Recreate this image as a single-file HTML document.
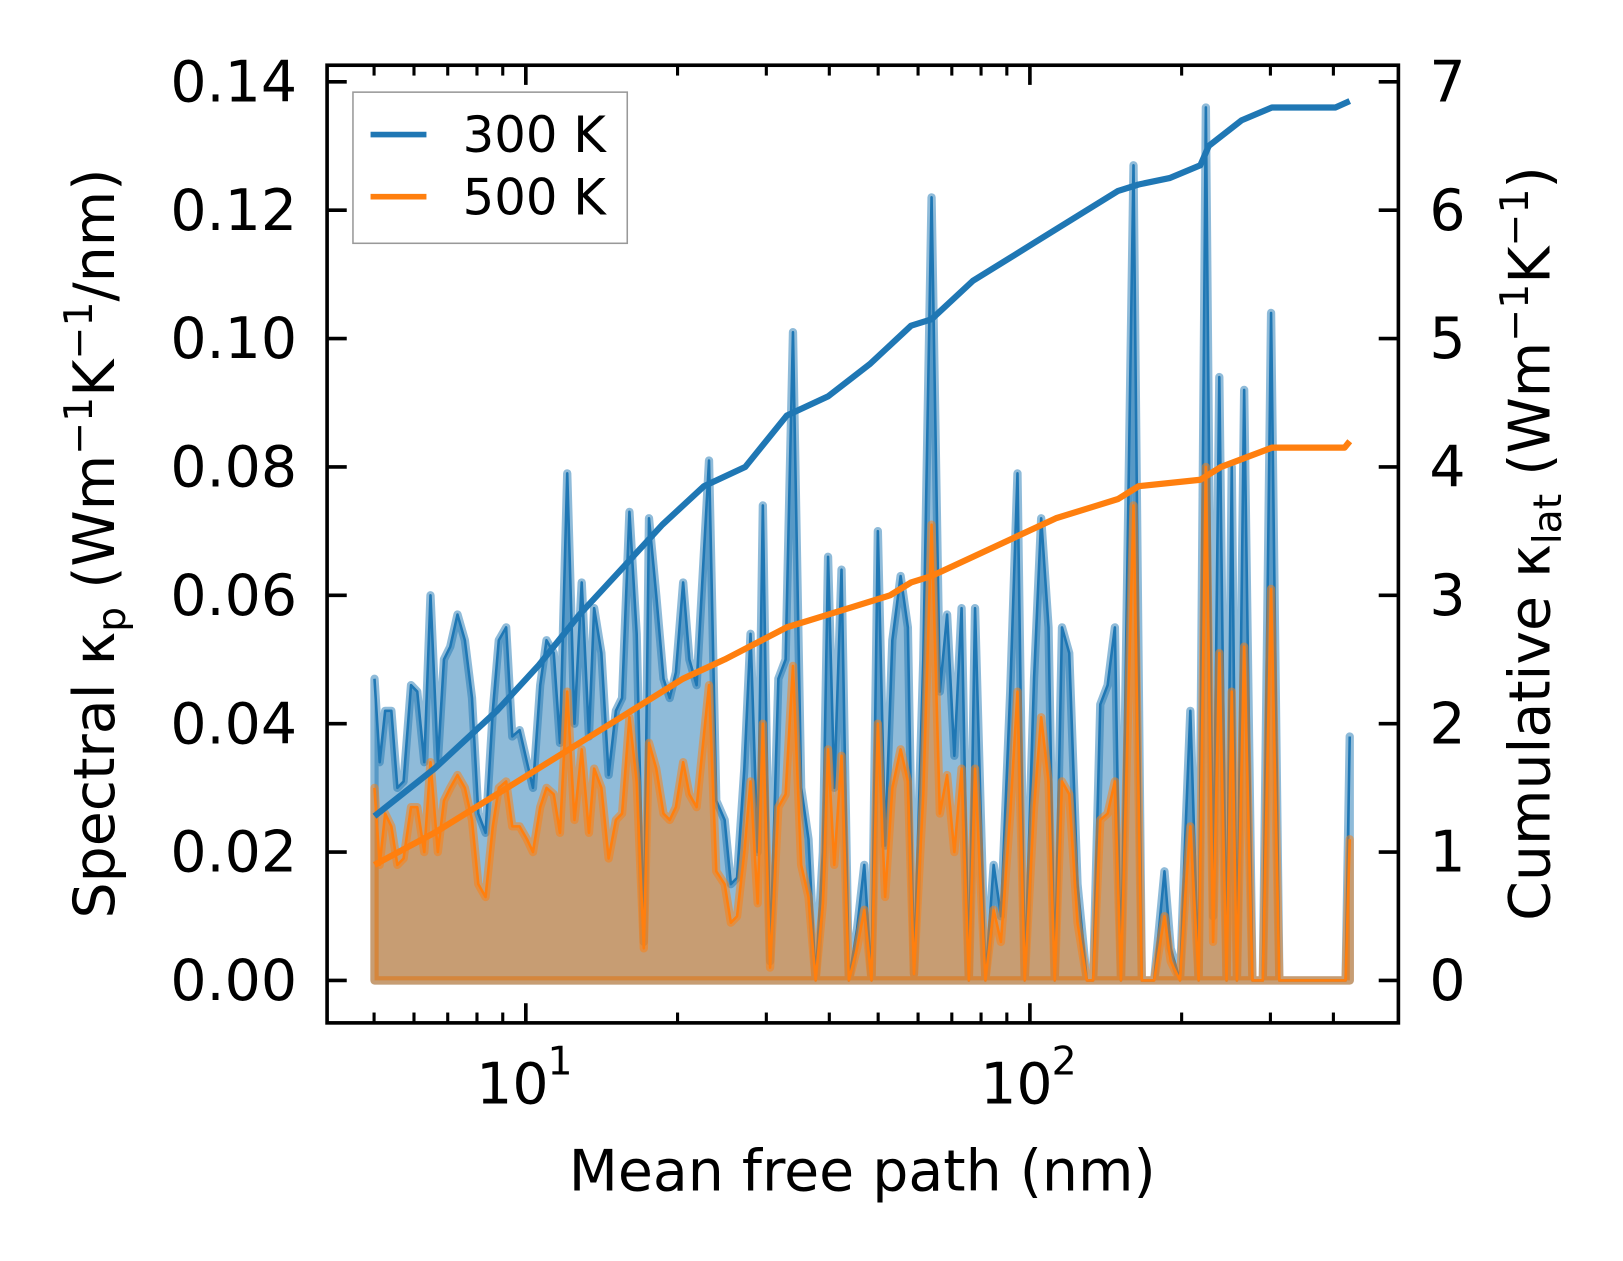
<!DOCTYPE html>
<html><head><meta charset="utf-8"><style>
html,body{margin:0;padding:0;background:#fff;}
svg{display:block;font-family:"DejaVu Sans","Liberation Sans",sans-serif;}
</style></head><body>
<svg id="chart" width="1623" height="1261" viewBox="0 0 1568 1218" preserveAspectRatio="none" xmlns="http://www.w3.org/2000/svg">
<g id="plot"></g>
<g id="axes"></g>
</svg>
<script>
const mfp = [5.01,5.13,5.26,5.41,5.56,5.72,5.92,6.09,6.29,6.47,6.69,6.88,7.08,7.32,7.57,7.82,8.05,8.32,8.60,8.84,9.14,9.40,9.72,10.05,10.33,10.68,10.99,11.36,11.69,12.08,12.49,12.91,13.34,13.66,14.12,14.60,15.09,15.52,16.05,16.59,17.14,17.55,18.14,18.75,19.29,19.85,20.52,21.11,21.82,23.09,23.87,24.80,25.51,26.25,27.13,27.91,28.84,29.53,30.52,31.70,32.77,33.88,35.18,36.37,37.58,38.85,39.78,40.92,42.30,43.73,45.41,46.94,48.52,49.92,51.60,53.34,55.39,57.26,58.88,61.44,63.81,66.27,68.50,70.81,73.19,75.66,77.84,81.60,84.74,87.59,91.41,94.49,97.66,101.9,105.3,108.9,112.0,115.8,119.7,124.3,129.7,133.5,137.9,142.6,147.4,151.6,160.5,166.7,176.4,184.9,190.2,198.5,203.2,208.1,216.1,223.4,230.9,237.6,245.5,251.4,257.4,266.1,276.4,289.7,300.9,312.5,423.0,431.1];
const k300 = [0.047,0.034,0.042,0.042,0.030,0.031,0.046,0.045,0.034,0.060,0.034,0.050,0.052,0.057,0.053,0.044,0.026,0.023,0.042,0.053,0.055,0.038,0.039,0.034,0.030,0.046,0.053,0.051,0.037,0.079,0.040,0.062,0.038,0.058,0.051,0.032,0.042,0.044,0.073,0.054,0.006,0.072,0.060,0.047,0.044,0.048,0.062,0.050,0.046,0.081,0.028,0.025,0.015,0.016,0.033,0.054,0.020,0.074,0.003,0.047,0.050,0.101,0.030,0.022,0.000,0.020,0.066,0.030,0.064,0.000,0.008,0.018,0.000,0.070,0.021,0.053,0.063,0.055,0.001,0.050,0.122,0.045,0.057,0.035,0.058,0.000,0.058,0.000,0.018,0.010,0.045,0.079,0.000,0.047,0.072,0.055,0.000,0.055,0.051,0.015,0.000,0.000,0.043,0.046,0.055,0.000,0.127,0.000,0.000,0.017,0.005,0.000,0.022,0.042,0.000,0.136,0.010,0.094,0.000,0.080,0.000,0.092,0.000,0.000,0.104,0.000,0.000,0.038];
const k500 = [0.030,0.018,0.026,0.024,0.018,0.019,0.027,0.027,0.020,0.034,0.020,0.028,0.030,0.032,0.030,0.025,0.015,0.013,0.024,0.030,0.031,0.024,0.024,0.022,0.020,0.027,0.030,0.029,0.023,0.045,0.025,0.036,0.023,0.033,0.030,0.019,0.025,0.026,0.041,0.031,0.005,0.037,0.033,0.026,0.025,0.027,0.034,0.029,0.027,0.046,0.017,0.015,0.009,0.010,0.020,0.031,0.012,0.040,0.002,0.027,0.029,0.049,0.018,0.013,0.000,0.012,0.036,0.018,0.035,0.000,0.005,0.011,0.000,0.040,0.013,0.030,0.036,0.031,0.001,0.029,0.071,0.026,0.032,0.020,0.033,0.000,0.033,0.000,0.011,0.006,0.026,0.045,0.000,0.027,0.041,0.031,0.000,0.031,0.029,0.009,0.000,0.000,0.025,0.026,0.031,0.000,0.074,0.000,0.000,0.010,0.003,0.000,0.013,0.024,0.000,0.080,0.006,0.051,0.000,0.045,0.000,0.052,0.000,0.000,0.061,0.000,0.000,0.022];
const cumX300 = [5.01,6.59,8.76,10.58,12.78,15.45,18.66,22.56,27.25,32.93,39.8,48.1,58.1,63.8,77.1,93.2,102.4,123.7,149.6,164.4,189.2,217.9,226.4,263,302,404,431];
const cum300 = [1.28,1.65,2.10,2.45,2.85,3.20,3.55,3.85,4.00,4.40,4.55,4.80,5.10,5.15,5.45,5.65,5.75,5.95,6.15,6.20,6.25,6.35,6.50,6.70,6.80,6.80,6.85];
const cumX500 = [5.01,6.59,8.76,11.63,15.45,20.5,24.8,32.9,39.8,52.8,58.1,63.8,77.1,93.2,112.6,136.1,149.6,164.4,217.9,239.5,302,421,431];
const cum500 = [0.90,1.15,1.45,1.75,2.05,2.35,2.50,2.75,2.85,3.00,3.10,3.15,3.30,3.45,3.60,3.70,3.75,3.85,3.90,4.00,4.15,4.15,4.20];
const leftTicks = ["0.00","0.02","0.04","0.06","0.08","0.10","0.12","0.14"];
const rightTicks = ["0","1","2","3","4","5","6","7"];

const NS="http://www.w3.org/2000/svg";
const X0=316,X1=1351,Y0=63,Y1=988;
function xs(v){return 508+(Math.log10(v)-1)*487;}
function yl(v){return 947-v/0.02*124;}
function yr(v){return 947-v*124;}
function mk(tag,attrs,parent){const e=document.createElementNS(NS,tag);for(const k in attrs)e.setAttribute(k,attrs[k]);parent.appendChild(e);return e;}
const plot=document.getElementById('plot'), axes=document.getElementById('axes');

function area(vals,color,name){
  let d='M'+xs(mfp[0])+','+yl(0);
  mfp.forEach((m,i)=>{d+=' L'+xs(m).toFixed(1)+','+yl(vals[i]).toFixed(1);});
  d+=' L'+xs(mfp[mfp.length-1])+','+yl(0)+' Z';
  const f=mk('path',{d:d,fill:color,'fill-opacity':0.5,stroke:color,'stroke-opacity':0.5,'stroke-width':8,'stroke-linejoin':'round'},plot);
  
  
  let l='';
  mfp.forEach((m,i)=>{l+=(i?' L':'M')+xs(m).toFixed(1)+','+yl(vals[i]).toFixed(1);});
  const p=mk('path',{d:l,fill:'none',stroke:color,'stroke-width':2.5,'stroke-linejoin':'round'},plot);
  
  
}
area(k300,'#1f77b4','spectral-300k');
area(k500,'#ff7f0e','spectral-500k');

function cum(xv,yv,color,name){
  let l='';
  xv.forEach((m,i)=>{l+=(i?' L':'M')+xs(m).toFixed(1)+','+yr(yv[i]).toFixed(1);});
  const p=mk('path',{d:l,fill:'none',stroke:color,'stroke-width':6,'stroke-linejoin':'round'},plot);
  
  
}
cum(cumX300,cum300,'#1f77b4','cumulative-300k');
cum(cumX500,cum500,'#ff7f0e','cumulative-500k');

const fr=mk('rect',{x:X0,y:Y0,width:X1-X0,height:Y1-Y0,fill:'none',stroke:'#000','stroke-width':3.5},axes);


leftTicks.forEach(t=>{
  const y=yl(parseFloat(t));
  mk('line',{x1:X0,x2:X0+19,y1:y,y2:y,stroke:'#000','stroke-width':3.5},axes);
  const tx=mk('text',{x:287,y:y+19,'font-size':55,'text-anchor':'end'},axes);
  tx.textContent=t;
  
  
});
rightTicks.forEach(t=>{
  const y=yr(parseFloat(t));
  mk('line',{x1:X1-19,x2:X1,y1:y,y2:y,stroke:'#000','stroke-width':3.5},axes);
  const tx=mk('text',{x:1381,y:y+19,'font-size':55,'text-anchor':'start'},axes);
  tx.textContent=t;
  
  
});
const minors=[5,6,7,8,9,20,30,40,50,60,70,80,90,200,300,400];
minors.forEach(v=>{const x=xs(v);
  mk('line',{x1:x,x2:x,y1:Y1,y2:Y1-10,stroke:'#000','stroke-width':3},axes);
  mk('line',{x1:x,x2:x,y1:Y0,y2:Y0+10,stroke:'#000','stroke-width':3},axes);});
[[10,'1'],[100,'2']].forEach(([v,e])=>{const x=xs(v);
  mk('line',{x1:x,x2:x,y1:Y1,y2:Y1-19,stroke:'#000','stroke-width':3.5},axes);
  mk('line',{x1:x,x2:x,y1:Y0,y2:Y0+19,stroke:'#000','stroke-width':3.5},axes);
  const tx=mk('text',{x:x-13,y:1066,'font-size':55,'text-anchor':'middle'},axes);
  tx.textContent='10';
  
  
  const sp=mk('text',{x:x+21,y:1038,'font-size':38},axes);
  sp.textContent=e;
  
  
});
</script>
<script>
(function(){
const NS="http://www.w3.org/2000/svg";
const axes=document.getElementById('axes');
function add(html){const g=document.createElementNS(NS,'g');g.innerHTML=html;axes.appendChild(g);return g;}
add('<text x="833" y="1150" font-size="55" text-anchor="middle">Mean free path (nm)</text>');
add('<text transform="translate(110,525) rotate(-90)" font-size="55" text-anchor="middle">Spectral κ<tspan font-size="38" dy="11">p</tspan><tspan dy="-11"> (Wm</tspan><tspan font-size="38" dy="-21">−1</tspan><tspan dy="21">K</tspan><tspan font-size="38" dy="-21">−1</tspan><tspan dy="21">/nm)</tspan></text>');
add('<text transform="translate(1497,525) rotate(-90)" font-size="55" text-anchor="middle">Cumulative κ<tspan font-size="38" dy="11">lat</tspan><tspan dy="-11"> (Wm</tspan><tspan font-size="38" dy="-21">−1</tspan><tspan dy="21">K</tspan><tspan font-size="38" dy="-21">−1</tspan><tspan dy="21">)</tspan></text>');
add('<g><rect x="341" y="89" width="265" height="146" fill="#fff" stroke="#999" stroke-width="1.5"/>'+
'<line x1="358" y1="130" x2="412" y2="130" stroke="#1f77b4" stroke-width="5.5"/>'+
'<text x="447" y="147" font-size="48">300 K</text>'+
'<line x1="358" y1="190" x2="412" y2="190" stroke="#ff7f0e" stroke-width="5.5"/>'+
'<text x="447" y="207" font-size="48">500 K</text></g>');
})();
</script>
</body></html>
